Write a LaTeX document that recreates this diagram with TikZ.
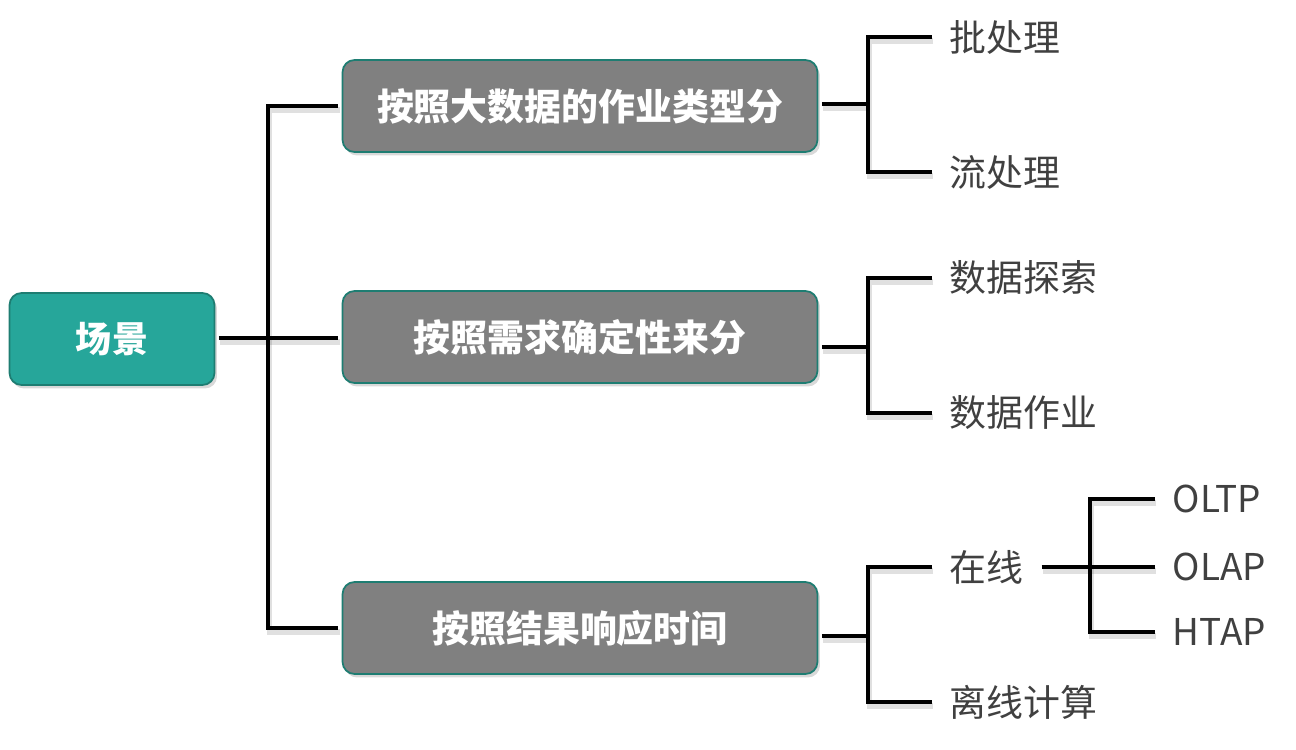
\documentclass[tikz,border=0pt]{standalone}
\usepackage{fontspec}
\usepackage{xcolor}
\usetikzlibrary{shadows,calc}
\newfontfamily\cjk{Noto Sans CJK SC}
\definecolor{rootfill}{HTML}{26A69A}
\definecolor{boxedge}{HTML}{1E7D72}
\definecolor{boxfill}{HTML}{808080}
\definecolor{leaftext}{HTML}{404040}

\begin{document}
\begin{tikzpicture}[
  x=0.02cm, y=-0.02cm,
  every node/.style={font=\cjk\fontsize{21}{25}\selectfont},
  root/.style={fill=rootfill, draw=boxedge, line width=1pt, rounded corners=0.24cm,
    minimum width=4.1cm, minimum height=1.84cm, text=white, font=\cjk\bfseries\fontsize{20.5}{25}\selectfont,
    drop shadow={opacity=0.3, shadow xshift=0.05cm, shadow yshift=-0.07cm}},
  cat/.style={fill=boxfill, draw=boxedge, line width=1pt, rounded corners=0.24cm,
    minimum width=9.5cm, minimum height=1.84cm, text=white, font=\cjk\bfseries\fontsize{21}{25}\selectfont,
    drop shadow={opacity=0.3, shadow xshift=0.05cm, shadow yshift=-0.07cm}},
  leaf/.style={text=leaftext, inner sep=0pt, inner xsep=10pt},
  link/.style={line width=2.8pt,
    preaction={draw, black, opacity=0.12, line width=3.2pt, transform canvas={yshift=-2.2pt, xshift=0.8pt}}},
  gap/.style={shorten <=2pt, shorten >=2pt}
]
\useasboundingbox (0,0) rectangle (1296,750);

% root and categories
\node[root] (root) at (112,339) {场景};
\node[cat] (c1) at (580,106) {按照大数据的作业类型分};
\node[cat] (c2) at (580,337) {按照需求确定性来分};
\node[cat] (c3) at (580,628) {按照结果响应时间};

% leaves
\node[leaf, anchor=west] (batch) at (932,37) {批处理};
\node[leaf, anchor=west] (stream) at (932,172) {流处理};
\node[leaf, anchor=west] (explore) at (932,278) {数据探索};
\node[leaf, anchor=west] (job) at (932,413) {数据作业};
\node[leaf, anchor=west] (online) at (932,567) {在线};
\node[leaf, anchor=west] (offline) at (932,702) {离线计算};
\node[leaf, anchor=west] (oltp) at (1155,499) {OLTP};
\node[leaf, anchor=west] (olap) at (1155,567) {OLAP};
\node[leaf, anchor=west] (htap) at (1155,632) {HTAP};

% junctions
\coordinate (trunk) at (268,338);
\coordinate (j1) at (868,104);
\coordinate (j2) at (868,347);
\coordinate (j3) at (868,636);
\coordinate (j4) at (1090,567);

% connectors
\draw[link, gap] (trunk -| root.east) -- (trunk -| c2.west);
\draw[link, gap] (c1.west) -| (trunk) |- (c3.west);
\draw[link, shorten <=2pt] (j1 -| c1.east) -- (j1);
\draw[link] (batch.west) -| (j1) |- (stream.west);
\draw[link, shorten <=2pt] (j2 -| c2.east) -- (j2);
\draw[link] (explore.west) -| (j2) |- (job.west);
\draw[link, shorten <=2pt] (j3 -| c3.east) -- (j3);
\draw[link] (online.west) -| (j3) |- (offline.west);
\draw[link] (online.east) -- (olap.west);
\draw[link] (oltp.west) -| (j4) |- (htap.west);
\end{tikzpicture}
\end{document}
